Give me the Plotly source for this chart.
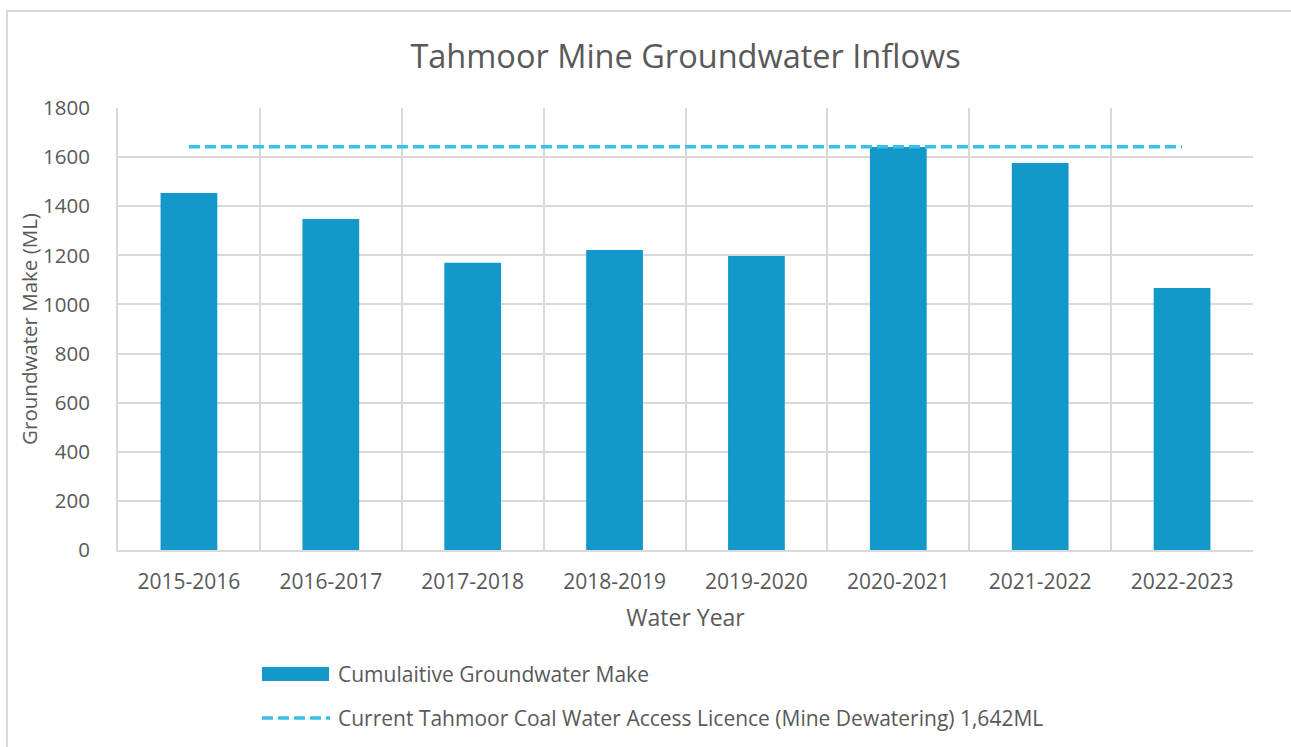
import plotly.graph_objects as go

years = ["2015-2016", "2016-2017", "2017-2018", "2018-2019",
         "2019-2020", "2020-2021", "2021-2022", "2022-2023"]
groundwater_make = [1454, 1348, 1170, 1222, 1197, 1641, 1576, 1067]
licence_value = 1642
licence = [licence_value] * len(years)

bar_name = "Cumulaitive Groundwater Make"
line_name = "Current Tahmoor Coal Water Access Licence (Mine Dewatering) 1,642ML"

W, H = 1291, 747
L, R, T, B = 118, 1253, 108, 550
FONT = "Open Sans"
GREY = "#595959"
GRID = "#D9D9D9"
BAR_C = "#1398CA"
LINE_C = "#3CBEEC"

def px(x):
    return (x - L) / (R - L)

def py(y):
    return (B - y) / (B - T)

fig = go.Figure()
fig.add_trace(go.Bar(x=years, y=groundwater_make, name=bar_name,
                     marker=dict(color=BAR_C, line=dict(width=0)),
                     showlegend=False))
fig.add_trace(go.Scatter(x=years, y=licence, name=line_name, mode="lines",
                         line=dict(color=LINE_C, width=3.5, dash="11px,5px"),
                         showlegend=False))

shapes = [
    # outer chart border
    dict(type="rect", xref="paper", yref="paper",
         x0=px(7), x1=px(1300), y0=py(760), y1=py(11),
         line=dict(color=GRID, width=2), fillcolor="rgba(0,0,0,0)", layer="below"),
    # legend symbols
    dict(type="rect", xref="paper", yref="paper",
         x0=px(262), x1=px(329), y0=py(681), y1=py(667),
         line=dict(width=0), fillcolor=BAR_C),
    dict(type="line", xref="paper", yref="paper",
         x0=px(262), x1=px(330), y0=py(718), y1=py(718),
         line=dict(color=LINE_C, width=3.5, dash="11px,5px")),
]
annotations = [
    dict(text=bar_name, xref="paper", yref="paper", x=px(336), y=py(674),
         xanchor="left", yanchor="middle", showarrow=False,
         font=dict(family=FONT, size=21, color=GREY)),
    dict(text=line_name, xref="paper", yref="paper", x=px(336), y=py(718),
         xanchor="left", yanchor="middle", showarrow=False,
         font=dict(family=FONT, size=21, color=GREY)),
]

fig.update_layout(
    width=W, height=H,
    margin=dict(l=L, r=W - R, t=T, b=H - B, autoexpand=False),
    paper_bgcolor="white", plot_bgcolor="white",
    bargap=0.6,
    title=dict(text="Tahmoor Mine Groundwater Inflows", x=0.5 * (L + R) / W, xanchor="center",
               y=1 - 57 / H, yanchor="middle",
               font=dict(family=FONT, size=32.5, color=GREY)),
    font=dict(family=FONT, color=GREY),
    shapes=shapes, annotations=annotations,
    xaxis=dict(tickson="boundaries", showgrid=True, gridcolor=GRID, gridwidth=1.6,
               ticks="", showline=True, linecolor=GRID, linewidth=2,
               tickfont=dict(family=FONT, size=21, color=GREY),
               ticklabelstandoff=12,
               title=dict(text="Water Year", standoff=16,
                          font=dict(family=FONT, size=23, color=GREY))),
    yaxis=dict(range=[0, 1800], dtick=200, showgrid=True, gridcolor=GRID, gridwidth=1.6,
               ticks="", showline=True, linecolor=GRID, linewidth=2,
               zeroline=False,
               tickfont=dict(family=FONT, size=20.5, color=GREY),
               ticklabelstandoff=22,
               title=dict(text="Groundwater Make (ML)", standoff=0,
                          font=dict(family=FONT, size=20.5, color=GREY))),
)

fig.write_html("out.html", config={"displayModeBar": False},
               post_script="document.body.style.margin='0';document.body.style.overflow='hidden';")
